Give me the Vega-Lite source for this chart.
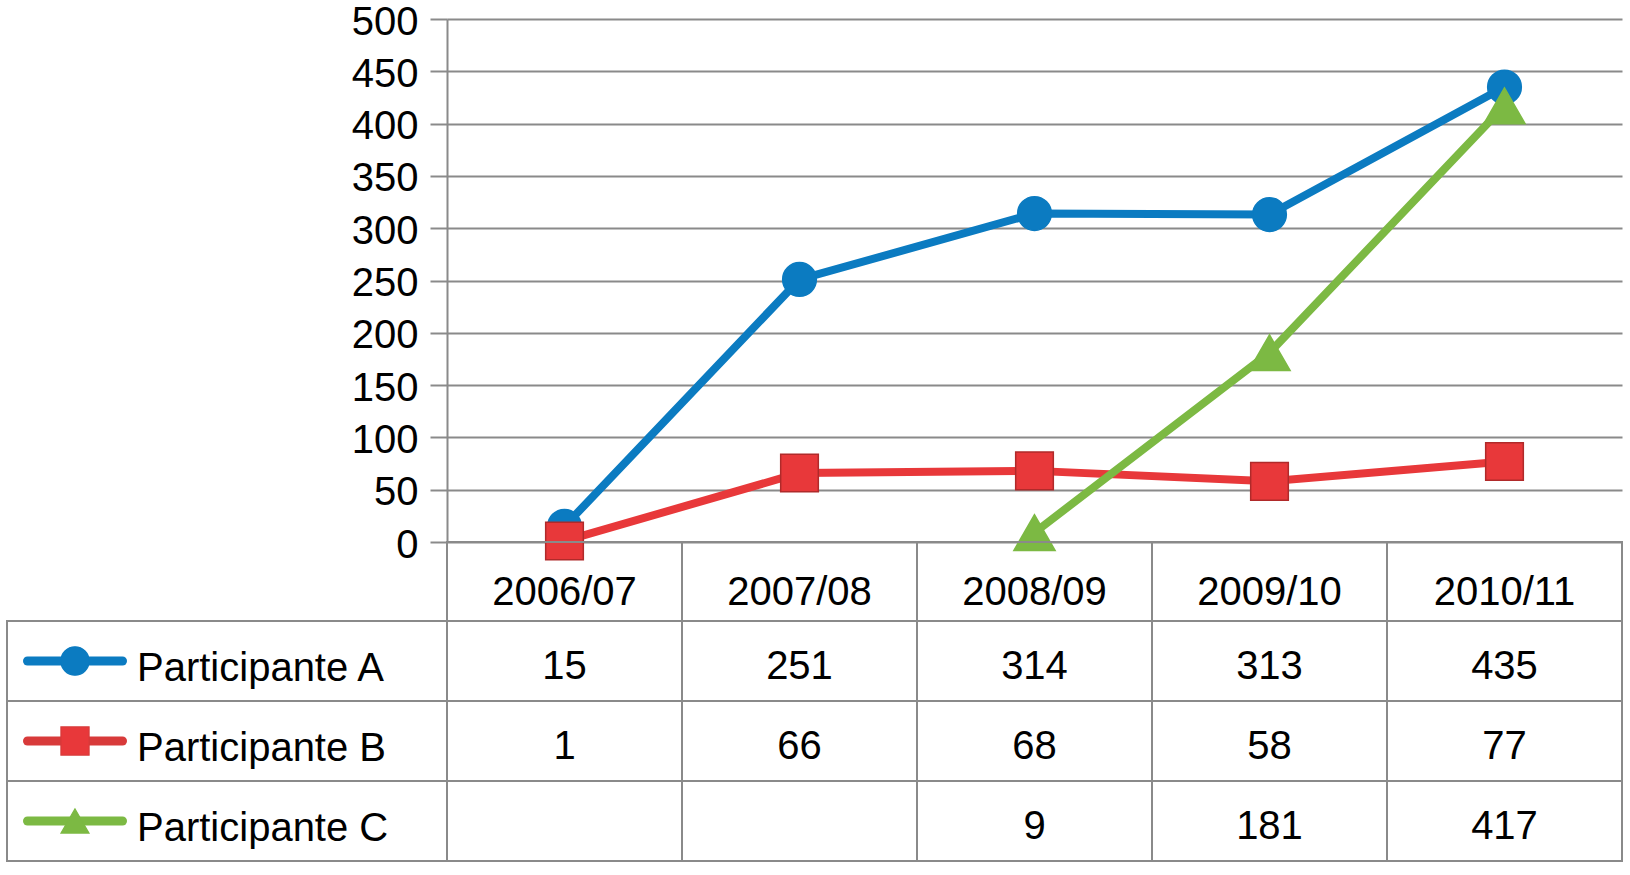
{
  "$schema": "https://vega.github.io/schema/vega-lite/v6.json",
  "background": "white",
  "padding": {"left": 5, "top": 2, "right": 0, "bottom": 0},
  "autosize": {"type": "pad"},
  "config": {
    "font": "Liberation Sans",
    "view": {"stroke": null},
    "text": {"font": "Liberation Sans", "color": "#000000"}
  },
  "datasets": {
    "vals": [
      {"period": "2006/07", "series": "Participante A", "value": 15},
      {"period": "2007/08", "series": "Participante A", "value": 251},
      {"period": "2008/09", "series": "Participante A", "value": 314},
      {"period": "2009/10", "series": "Participante A", "value": 313},
      {"period": "2010/11", "series": "Participante A", "value": 435},
      {"period": "2006/07", "series": "Participante B", "value": 1},
      {"period": "2007/08", "series": "Participante B", "value": 66},
      {"period": "2008/09", "series": "Participante B", "value": 68},
      {"period": "2009/10", "series": "Participante B", "value": 58},
      {"period": "2010/11", "series": "Participante B", "value": 77},
      {"period": "2008/09", "series": "Participante C", "value": 9},
      {"period": "2009/10", "series": "Participante C", "value": 181},
      {"period": "2010/11", "series": "Participante C", "value": 417}
    ],
    "periods": [
      {"period": "2006/07"},
      {"period": "2007/08"},
      {"period": "2008/09"},
      {"period": "2009/10"},
      {"period": "2010/11"}
    ],
    "series": [
      {"series": "Participante A"},
      {"series": "Participante B"},
      {"series": "Participante C"}
    ]
  },
  "columns": 2,
  "spacing": 0,
  "bounds": "flush",
  "align": "each",
  "resolve": {
    "scale": {"x": "independent", "y": "independent", "color": "independent", "shape": "independent", "size": "independent", "stroke": "independent"},
    "axis": {"x": "independent", "y": "independent"}
  },
  "concat": [
    {
      "width": 440,
      "height": 523,
      "data": {"values": [{}]},
      "mark": {"type": "point", "opacity": 0}
    },
    {
      "width": 1175,
      "height": 523,
      "data": {"name": "vals"},
      "encoding": {
        "x": {"field": "period", "type": "ordinal", "scale": {"type": "point", "padding": 0.5}, "axis": null},
        "y": {
          "field": "value",
          "type": "quantitative",
          "scale": {"domain": [0, 500], "nice": false, "zero": true},
          "axis": {
            "title": null,
            "values": [0, 50, 100, 150, 200, 250, 300, 350, 400, 450, 500],
            "grid": true,
            "gridColor": "#8a8a8a",
            "gridWidth": 2,
            "gridOpacity": 1,
            "domainColor": "#8a8a8a",
            "domainWidth": 2,
            "tickColor": "#8a8a8a",
            "tickWidth": 2,
            "tickSize": 17,
            "labelFontSize": 40,
            "labelFont": "Liberation Sans",
            "labelColor": "#000000",
            "labelPadding": 12,
            "labelOffset": 3,
            "labelOverlap": false
          }
        },
        "color": {
          "field": "series",
          "type": "nominal",
          "scale": {"domain": ["Participante A", "Participante B", "Participante C"], "range": ["#0B7BC1", "#E8383A", "#7CB943"]},
          "legend": null
        }
      },
      "layer": [
        {"mark": {"type": "line", "strokeWidth": 8, "strokeJoin": "round", "strokeCap": "round"}},
        {
          "mark": {"type": "point", "filled": true, "opacity": 1, "strokeWidth": 1.5},
          "encoding": {
            "shape": {
              "field": "series",
              "type": "nominal",
              "scale": {"domain": ["Participante A", "Participante B", "Participante C"], "range": ["circle", "square", "triangle-up"]},
              "legend": null
            },
            "size": {
              "field": "series",
              "type": "ordinal",
              "scale": {"domain": ["Participante A", "Participante B", "Participante C"], "range": [1134, 1700, 1936]},
              "legend": null
            },
            "stroke": {
              "field": "series",
              "type": "nominal",
              "scale": {"domain": ["Participante A", "Participante B", "Participante C"], "range": ["#0B7BC1", "#B02A2A", "#7CB943"]},
              "legend": null
            }
          }
        }
      ]
    },
    {
      "width": 440,
      "height": 79,
      "data": {"values": [{}]},
      "mark": {"type": "point", "opacity": 0}
    },
    {
      "width": 1175,
      "height": 79,
      "view": {"stroke": "#8a8a8a", "strokeWidth": 2},
      "data": {"name": "periods"},
      "layer": [
        {
          "mark": {"type": "rule", "color": "#8a8a8a", "strokeWidth": 2},
          "encoding": {
            "x": {"field": "period", "type": "ordinal", "bandPosition": 0, "scale": {"type": "band", "paddingInner": 0, "paddingOuter": 0}, "axis": null}
          }
        },
        {
          "mark": {"type": "text", "fontSize": 40, "baseline": "middle", "dy": 11, "color": "#000000"},
          "encoding": {
            "x": {"field": "period", "type": "ordinal", "scale": {"type": "band", "paddingInner": 0, "paddingOuter": 0}, "axis": null},
            "text": {"field": "period", "type": "nominal"}
          }
        }
      ]
    },
    {
      "width": 440,
      "height": 240,
      "view": {"stroke": "#8a8a8a", "strokeWidth": 2},
      "data": {"name": "series"},
      "encoding": {
        "y": {"field": "series", "type": "nominal", "scale": {"type": "band", "paddingInner": 0, "paddingOuter": 0}, "axis": null}
      },
      "layer": [
        {
          "mark": {"type": "rule", "color": "#8a8a8a", "strokeWidth": 2},
          "encoding": {
            "y": {"field": "series", "type": "nominal", "bandPosition": 0, "scale": {"type": "band", "paddingInner": 0, "paddingOuter": 0}, "axis": null}
          }
        },
        {
          "mark": {"type": "point", "shape": "stroke", "size": 9025, "strokeWidth": 9, "strokeCap": "round", "filled": false, "opacity": 1},
          "encoding": {
            "x": {"value": 68},
            "stroke": {
              "field": "series",
              "type": "nominal",
              "scale": {"domain": ["Participante A", "Participante B", "Participante C"], "range": ["#0B7BC1", "#D83A3A", "#7CB943"]},
              "legend": null
            }
          }
        },
        {
          "mark": {"type": "point", "filled": true, "opacity": 1, "strokeWidth": 1.2},
          "encoding": {
            "x": {"value": 68},
            "color": {
              "field": "series",
              "type": "nominal",
              "scale": {"domain": ["Participante A", "Participante B", "Participante C"], "range": ["#0B7BC1", "#E8383A", "#7CB943"]},
              "legend": null
            },
            "shape": {
              "field": "series",
              "type": "nominal",
              "scale": {"domain": ["Participante A", "Participante B", "Participante C"], "range": ["circle", "square", "triangle-up"]},
              "legend": null
            },
            "size": {
              "field": "series",
              "type": "ordinal",
              "scale": {"domain": ["Participante A", "Participante B", "Participante C"], "range": [800, 784, 900]},
              "legend": null
            },
            "stroke": {
              "field": "series",
              "type": "nominal",
              "scale": {"domain": ["Participante A", "Participante B", "Participante C"], "range": ["#0B7BC1", "#B02A2A", "#7CB943"]},
              "legend": null
            }
          }
        },
        {
          "mark": {"type": "text", "align": "left", "baseline": "middle", "fontSize": 40, "dy": 8, "color": "#000000"},
          "encoding": {
            "x": {"value": 130},
            "text": {"field": "series", "type": "nominal"}
          }
        }
      ]
    },
    {
      "width": 1175,
      "height": 240,
      "view": {"stroke": "#8a8a8a", "strokeWidth": 2},
      "layer": [
        {
          "data": {"name": "periods"},
          "mark": {"type": "rule", "color": "#8a8a8a", "strokeWidth": 2},
          "encoding": {
            "x": {"field": "period", "type": "ordinal", "bandPosition": 0, "scale": {"type": "band", "paddingInner": 0, "paddingOuter": 0}, "axis": null}
          }
        },
        {
          "data": {"name": "series"},
          "mark": {"type": "rule", "color": "#8a8a8a", "strokeWidth": 2},
          "encoding": {
            "y": {"field": "series", "type": "nominal", "bandPosition": 0, "scale": {"type": "band", "paddingInner": 0, "paddingOuter": 0}, "axis": null}
          }
        },
        {
          "data": {"name": "vals"},
          "mark": {"type": "text", "fontSize": 40, "baseline": "middle", "dy": 6, "color": "#000000"},
          "encoding": {
            "x": {"field": "period", "type": "ordinal", "scale": {"type": "band", "paddingInner": 0, "paddingOuter": 0}, "axis": null},
            "y": {"field": "series", "type": "nominal", "scale": {"type": "band", "paddingInner": 0, "paddingOuter": 0}, "axis": null},
            "text": {"field": "value", "type": "quantitative"}
          }
        }
      ]
    }
  ]
}
